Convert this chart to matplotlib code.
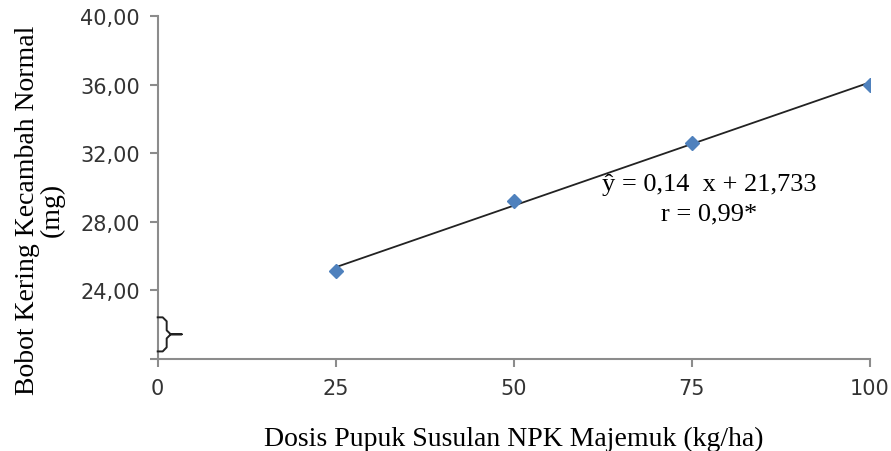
import matplotlib.pyplot as plt
import numpy as np

plt.rcParams['axes.unicode_minus'] = False

dosis = [25, 50, 75, 100]
bobot = [25.15, 29.2, 32.6, 36.0]
y_ticks = [20, 24, 28, 32, 36, 40]
x_ticks = [0, 25, 50, 75, 100]

serif = 'Liberation Serif'
axis_col = '#8c8c8c'

fig = plt.figure(figsize=(8.91, 4.52), dpi=100)
ax = fig.add_axes([0.177, 0.204, 0.799, 0.758])

# regresi linear
slope, intercept = np.polyfit(dosis, bobot, 1)
xx = np.array([min(dosis), max(dosis)])
ax.plot(xx, slope * xx + intercept, color='#222222', linewidth=1.3, zorder=2)
ax.plot(dosis, bobot, linestyle='none', marker='D', markersize=7,
        color='#4F81BD', zorder=3)

ax.text(77.5, 30.2, 'ŷ = 0,14  x + 21,733', ha='center', va='center',
        fontsize=19, family=serif)
ax.text(77.5, 28.5, 'r = 0,99*', ha='center', va='center',
        fontsize=19, family=serif)

ax.set_xlim(0, 100)
ax.set_ylim(20, 40)
ax.set_xticks(x_ticks)
ax.set_xticklabels([str(v) for v in x_ticks])
ax.set_yticks(y_ticks)
ax.set_yticklabels(['' if v == 20 else f'{v:.2f}'.replace('.', ',') for v in y_ticks])

for s in ['top', 'right']:
    ax.spines[s].set_visible(False)
for s in ['left', 'bottom']:
    ax.spines[s].set_color(axis_col)
    ax.spines[s].set_linewidth(1.5)
ax.tick_params(axis='both', colors=axis_col, length=6, width=1.5, labelsize=15,
               labelcolor='#333333')
ax.tick_params(axis='x', pad=8)
ax.tick_params(axis='y', pad=7)

ax.set_xlabel('Dosis Pupuk Susulan NPK Majemuk (kg/ha)', fontsize=20,
              family=serif, labelpad=20)
ax.set_ylabel('Bobot Kering Kecambah Normal\n(mg)', fontsize=20,
              family=serif, linespacing=1.0)
ax.yaxis.set_label_coords(-0.13, 0.437)

# tanda patah sumbu (kurung kurawal)
bx = [0, 0.7, 1.26, 1.26, 1.83, 3.37, 1.83, 1.26, 1.26, 0.7, 0]
by = [22.42, 22.42, 22.19, 21.66, 21.43, 21.43, 21.43, 21.19, 20.67, 20.43, 20.43]
ax.plot(bx, by, color='#222222', linewidth=1.4, clip_on=False, zorder=4)

fig.savefig('out.png', dpi=100)
